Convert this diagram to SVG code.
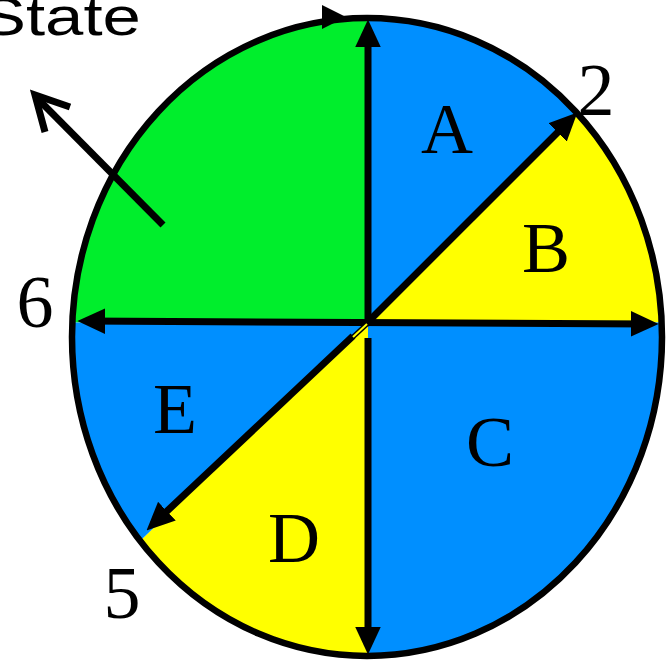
<svg xmlns="http://www.w3.org/2000/svg" width="668" height="662" viewBox="0 0 668 662">
  <defs>
    <marker id="ah" markerUnits="userSpaceOnUse" markerWidth="28" markerHeight="26" viewBox="0 0 26 24" refX="18" refY="12" orient="auto-start-reverse">
      <path d="M0,0 L26,12 L0,24 Z" fill="#000"/>
    </marker>
    <style>
      .green{fill:#00EE2C}
      .blue{fill:#008FFF}
      .yellow{fill:#FFFF00}
      .conn{stroke:#000;stroke-width:7;fill:none}
      .lbl{font-family:"Liberation Serif","Times New Roman",serif;font-size:72px;fill:#000;text-anchor:middle}
      .num{font-family:"Liberation Serif","Times New Roman",serif;font-size:74px;fill:#000;text-anchor:middle}
    </style>
  </defs>
  <rect width="668" height="662" fill="#fff"/>

  <g id="regions">
    <path id="green-region" class="green" d="M368,322.5 L368,18 A295,319 0 0,0 72.3,322.5 Z"/>
    <path id="region-A" class="blue" d="M368,322.5 L368,18 A295,319 0 0,1 578,114 Z"/>
    <path id="region-B" class="yellow" d="M368,322.5 L578,114 A295,319 0 0,1 661.7,322.5 Z"/>
    <path id="region-C" class="blue" d="M368,322.5 L661.7,322.5 A295,319 0 0,1 368,656 Z"/>
    <path id="region-D" class="yellow" d="M368,322.5 L368,656 A295,319 0 0,1 141,540 Z"/>
    <path id="region-E" class="blue" d="M368,322.5 L141,540 A295,319 0 0,1 72.3,322.5 Z"/>
    <ellipse id="outline" cx="367" cy="337" rx="295" ry="319" fill="none" stroke="#000" stroke-width="6.5"/>
  </g>

  <g id="connectors">
    <line class="conn" x1="368" y1="325" x2="368" y2="28" marker-end="url(#ah)"/>
    <line class="conn" x1="368" y1="338" x2="368" y2="646" marker-end="url(#ah)"/>
    <line class="conn" x1="86" y1="321" x2="650" y2="324" marker-start="url(#ah)" marker-end="url(#ah)"/>
    <line class="conn" x1="366" y1="324" x2="571.3" y2="118.7" marker-end="url(#ah)"/>
    <line class="conn" x1="353" y1="336" x2="152.8" y2="524.5" marker-end="url(#ah)"/>
    <line x1="353" y1="337" x2="367" y2="324" stroke="#000" stroke-width="5"/>
    <line x1="353" y1="337" x2="367" y2="324" stroke="#FFFF00" stroke-width="2"/>
    <polygon points="322,5 346,17 322,29" fill="#000"/>
    <g id="pointer">
      <line class="conn" x1="163" y1="225" x2="37" y2="98"/>
      <polyline class="conn" points="70,107 35,95 45,132"/>
    </g>
  </g>

  <g id="labels">
    <text id="title" transform="translate(-20,35) scale(1.3,1)" font-family="'Liberation Sans',Arial,sans-serif" font-size="53">State</text>
    <text class="lbl" x="447" y="153">A</text>
    <text class="lbl" x="546" y="272">B</text>
    <text class="lbl" x="490" y="466">C</text>
    <text class="lbl" x="294" y="562">D</text>
    <text class="lbl" x="175" y="433">E</text>
    <text class="num" x="596" y="115">2</text>
    <text class="num" x="35" y="327">6</text>
    <text class="num" x="122" y="618">5</text>
  </g>
</svg>
